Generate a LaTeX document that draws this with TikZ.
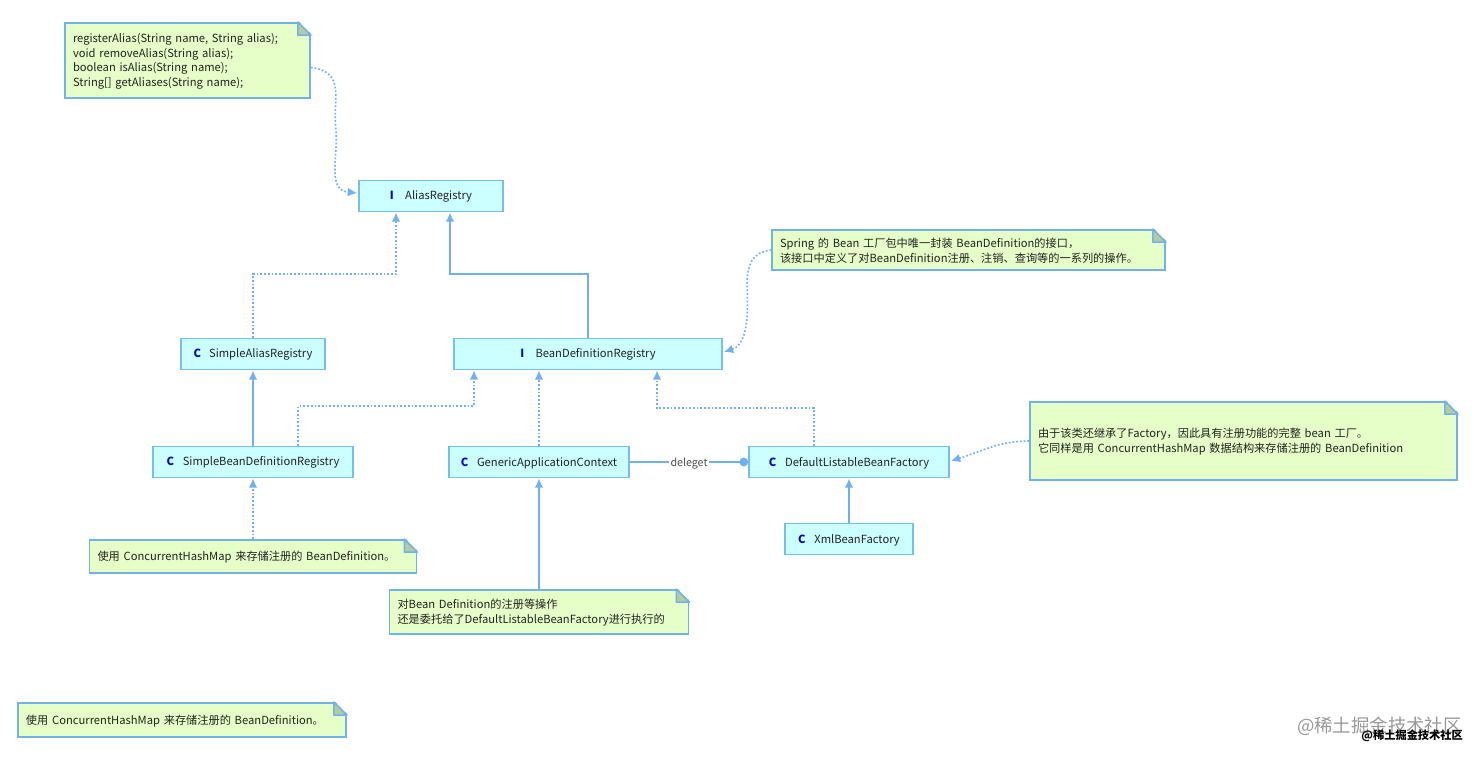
\documentclass[tikz,border=0pt]{standalone}
\usepackage{fontspec}
\setmainfont{Noto Sans CJK SC}
\usepackage{xcolor}
\usetikzlibrary{calc,arrows.meta}
\definecolor{linkblue}{HTML}{6EB0F7}
\definecolor{boxfill}{HTML}{CCFFFF}
\definecolor{boxline}{HTML}{78BDF2}
\definecolor{notefill}{HTML}{E6FFC8}
\definecolor{noteline}{HTML}{72B2EC}
\definecolor{foldfill}{HTML}{B4CBA0}
\definecolor{iconblue}{HTML}{0000C8}
\definecolor{inktext}{HTML}{222222}
\tikzset{
    x=0.75pt, y=-0.75pt,
    basetext/.style={font=\fontsize{8.4}{11}\selectfont, text=inktext},
    classbox/.style n args={2}{basetext, draw=boxline, fill=boxfill, line width=1.35pt, inner sep=0pt,
        minimum width=#1*0.75pt, minimum height=#2*0.75pt},
    notebox/.style n args={2}{basetext, draw=noteline, fill=notefill, line width=1.3pt, inner xsep=6pt, inner ysep=0pt,
        text width={(#1-16)*0.75pt}, minimum height=#2*0.75pt, align=left},
    solidlink/.style={draw=linkblue, line width=1.4pt, -{Latex[length=7pt,width=6.5pt]}},
    dotlink/.style={draw=linkblue, line width=1.2pt, dash pattern=on 1.3pt off 1.5pt, -{Latex[length=7pt,width=6.5pt]}},
    mark text/.style={font=\fontsize{8}{10}\selectfont, text=black!70, fill=white, inner xsep=1pt, inner ysep=1pt}
}
\newcommand{\kindlabel}[3]{\rule{0pt}{8pt}\textcolor{iconblue}{\textbf{#1}}\hspace{#2pt}#3}
\newcommand{\notetop}{\rule{0pt}{8pt}}
% cut the top right corner of a note
\newcommand{\foldnote}[1]{
    \fill[white] ($(#1.north east)+(-13,-2)$) -- ($(#1.north east)+(2,-2)$) -- ($(#1.north east)+(2,13)$) -- cycle;
    \draw[draw=noteline, fill=foldfill, line width=1.2pt, line join=round] ($(#1.north east)+(-13,0)$) -- ($(#1.north east)+(0,13)$) -- ($(#1.north east)+(-13,13)$) -- cycle;
}
\begin{document}
\begin{tikzpicture}
    \useasboundingbox (0,0) rectangle (1480,757);
    \fill[white] (0,0) rectangle (1480,757);

    % Classes
    \node[classbox={144}{31}] (aliasRegistry) at (431,196) {\kindlabel{I}{8.5}{AliasRegistry}};
    \node[classbox={144}{31}] (simpleAlias) at (253,354) {\kindlabel{C}{6}{SimpleAliasRegistry}};
    \node[classbox={268}{31}] (beanRegistry) at (588,354) {\kindlabel{I}{8.5}{BeanDefinitionRegistry}\hspace{4pt}};
    \node[classbox={200}{31}] (simpleBean) at (253,462) {\kindlabel{C}{6.5}{SimpleBeanDefinitionRegistry}};
    \node[classbox={180}{31}] (genericContext) at (539,462) {\kindlabel{C}{6.5}{GenericApplicationContext}};
    \node[classbox={200}{31}] (listableFactory) at (849,462) {\kindlabel{C}{6.5}{DefaultListableBeanFactory}};
    \node[classbox={128}{31}] (xmlFactory) at (849,539) {\kindlabel{C}{6.5}{XmlBeanFactory}};

    % Notes
    \node[notebox={245}{75}] (noteAlias) at (187.5,60.5) {\notetop registerAlias(String name, String alias);\\void removeAlias(String alias);\\boolean isAlias(String name);\\String[] getAliases(String name);};
    \node[notebox={393}{40}] (noteRegistry) at (968.5,250) {\notetop Spring 的 Bean 工厂包中唯一封装 BeanDefinition的接口，\\该接口中定义了对BeanDefinition注册、注销、查询等的一系列的操作。};
    \node[notebox={427}{78}] (noteFactory) at (1243.5,441) {\notetop 由于该类还继承了Factory，因此具有注册功能的完整 bean 工厂。\\它同样是用 ConcurrentHashMap 数据结构来存储注册的 BeanDefinition};
    \node[notebox={327}{33}] (noteSimple) at (253,556.5) {\notetop 使用 ConcurrentHashMap 来存储注册的 BeanDefinition。};
    \node[notebox={299}{44}] (noteGeneric) at (539,612) {\notetop 对Bean Definition的注册等操作\\还是委托给了DefaultListableBeanFactory进行执行的};
    \node[notebox={328}{34}] (noteLoose) at (182,720) {\notetop 使用 ConcurrentHashMap 来存储注册的 BeanDefinition。};
    \foldnote{noteAlias}
    \foldnote{noteRegistry}
    \foldnote{noteFactory}
    \foldnote{noteSimple}
    \foldnote{noteGeneric}
    \foldnote{noteLoose}

    % Inheritance
    \draw[solidlink] (simpleBean.north) -- (simpleAlias.south);
    \draw[solidlink] (xmlFactory.north) -- (listableFactory.south);
    \draw[solidlink] (noteGeneric.north) -- (genericContext.south);
    \draw[solidlink] (beanRegistry.north) -- ++(0,-63.5) -| ($(aliasRegistry.south)+(19,0)$);
    \draw[dotlink] (simpleAlias.north) -- ++(0,-63.5) -| ($(aliasRegistry.south)+(-35,0)$);
    \draw[dotlink] ($(simpleBean.north)+(45,0)$) -- ++(0,-39.5) -| ($(beanRegistry.south)+(-114,0)$);
    \draw[dotlink] (genericContext.north) -- (genericContext.north |- beanRegistry.south);
    \draw[dotlink] ($(listableFactory.north)+(-35,0)$) -- ++(0,-37.5) -| ($(beanRegistry.south)+(69,0)$);
    \draw[dotlink] (noteSimple.north) -- (simpleBean.south);

    % Note links
    \draw[dotlink] ($(noteAlias.east)+(0,7)$) .. controls (347,72) and (332,100) .. (336,130) .. controls (338,160) and (327,190) .. ($(aliasRegistry.west)+(-1,-3)$);
    \draw[dotlink] (noteRegistry.west) .. controls (752,252) and (747,265) .. (747,285) .. controls (749,325) and (745,345) .. ($(beanRegistry.east)+(1,-2)$);
    \draw[dotlink] (noteFactory.west) .. controls (1000,441) and (985,450) .. ($(listableFactory.east)+(1,-1)$);

    % Delegate
    \draw[draw=linkblue, line width=1.4pt, -{Circle[length=6.5pt,width=6.5pt]}] (genericContext.east) -- (listableFactory.west) node[midway, mark text, yshift=-1.5pt] (delegetLabel) {deleget};

    % Watermark
    \node[font=\fontsize{13.8}{15}\selectfont, text=black!40, anchor=east, inner sep=0pt] (markGrey) at (1462,726) {@稀土掘金技术社区};
    \node[font=\fontsize{8.4}{10}\bfseries\selectfont, text=black, anchor=east, inner sep=0pt] (markBlack) at (1463,735.5) {@稀土掘金技术社区};
\end{tikzpicture}
\end{document}
